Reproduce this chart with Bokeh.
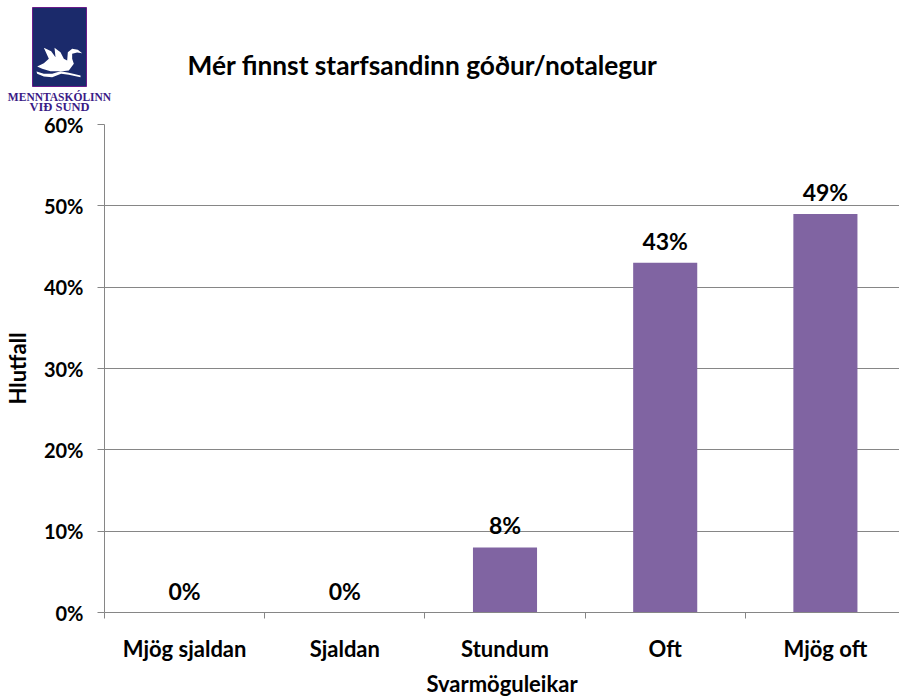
from bokeh.plotting import figure
from bokeh.models import ColumnDataSource, FixedTicker, PrintfTickFormatter, Range1d
from bokeh.core.properties import value
from bokeh.embed import file_html
from bokeh.resources import INLINE

categories = ["Mjög sjaldan", "Sjaldan", "Stundum", "Oft", "Mjög oft"]
percent = [0, 0, 8, 43, 49]
y_ticks = [0, 10, 20, 30, 40, 50, 60]
title_text = "Mér finnst starfsandinn góður/notalegur"
x_title = "Svarmöguleikar"
y_title = "Hlutfall"
logo_lines = ["MENNTASKÓLINN", "VIÐ SUND"]

FONT = "Lato"
GREY = "#868686"
BAR = "#8064A2"
NAVY = "#1B2A6B"

positions = list(range(len(categories)))
src = ColumnDataSource(dict(x=positions, top=percent, label=[f"{v}%" for v in percent]))

# header strip: the school's logo and the chart title, in page pixels
head = figure(width=899, height=114, output_backend="svg", toolbar_location=None,
              x_range=Range1d(0, 899), y_range=Range1d(114, 0), min_border=0,
              styles={"flex": "none"})
head.axis.visible = False
head.grid.visible = False
head.outline_line_color = None
head.quad(left=[32], right=[86], top=[7], bottom=[86], fill_color=NAVY, line_color="#6A1B8A", line_width=1)
swan = [(20,78),(40,68),(55,55),(40,22),(62,32),(75,50),(72,22),(90,35),(100,55),(110,60),(112,35),(125,25),(142,28),
        (155,38),(140,36),(125,40),(125,55),(130,70),(115,90),(95,92),(60,92),(35,85)]
wave = [(18,93),(40,100),(65,100),(90,92),(115,97),(150,105),(150,110),(115,103),(92,100),(65,110),(40,108),(20,100)]
for shape in (swan, wave):
    head.patch([30 + a / 3 for a, _ in shape], [40 + b / 3 for _, b in shape], color="white", line_color=None)
head.text(x=[59], y=[96], text=[logo_lines[0]], text_align="center", text_baseline="middle",
          text_font=value("Liberation Serif"), text_font_style="bold", text_font_size="11.5px", text_color="#3A1A86")
head.text(x=[59], y=[106.5], text=[logo_lines[1]], text_align="center", text_baseline="middle",
          text_font=value("Liberation Serif"), text_font_style="bold", text_font_size="12.5px", text_color="#3A1A86")
head.text(x=[187], y=[64], text=[title_text], text_align="left", text_baseline="middle",
          text_font=value(FONT), text_font_style="bold", text_font_size="26.3px", text_color="black")

# the chart overlaps the strip by a few pixels, so the 60% label can sit centred on its line
p = figure(width=899, height=591, output_backend="svg", toolbar_location=None,
           x_range=Range1d(-0.5, 4.4625), y_range=Range1d(0, 60),
           styles={"flex": "none", "margin-top": "-6px"})
p.min_border_left = 104
p.min_border_right = 0
p.min_border_top = 16
p.min_border_bottom = 87
p.outline_line_color = None
p.background_fill_color = "white"
p.border_fill_color = None

p.vbar(x="x", top="top", width=0.4, bottom=0, source=src, color=BAR, line_color=None)
p.text(x="x", y="top", text="label", source=src, text_align="center", text_baseline="bottom",
       y_offset=-8, text_font=value(FONT), text_font_style="bold", text_font_size="23px",
       text_color="black")

p.xgrid.visible = False
p.ygrid.grid_line_color = GREY
p.ygrid.grid_line_width = 1
p.ygrid.ticker = FixedTicker(ticks=y_ticks)

xa = p.xaxis[0]
xa.ticker = FixedTicker(ticks=positions, minor_ticks=[i - 0.5 for i in positions])
xa.major_label_overrides = dict(zip(positions, categories))
xa.major_tick_line_color = None
xa.major_tick_out = 0
xa.major_tick_in = 0
xa.minor_tick_line_color = GREY
xa.minor_tick_out = 6
xa.minor_tick_in = 0
xa.axis_line_color = GREY
xa.major_label_standoff = 16
xa.major_label_text_font = FONT
xa.major_label_text_font_style = "bold"
xa.major_label_text_font_size = "22px"
xa.major_label_text_color = "black"
xa.axis_label = x_title
xa.axis_label_text_font = FONT
xa.axis_label_text_font_style = "bold"
xa.axis_label_text_font_size = "22px"
xa.axis_label_text_color = "black"
xa.axis_label_text_line_height = 1.0
xa.axis_label_standoff = 5

ya = p.yaxis[0]
ya.ticker = FixedTicker(ticks=y_ticks)
ya.formatter = PrintfTickFormatter(format="%d%%")
ya.major_tick_line_color = GREY
ya.major_tick_out = 7
ya.major_tick_in = 0
ya.minor_tick_line_color = None
ya.axis_line_color = GREY
ya.major_label_standoff = 14
ya.major_label_text_font = FONT
ya.major_label_text_font_style = "bold"
ya.major_label_text_font_size = "20px"
ya.major_label_text_color = "black"
ya.axis_label = y_title
ya.axis_label_text_font = FONT
ya.axis_label_text_font_style = "bold"
ya.axis_label_text_font_size = "22px"
ya.axis_label_text_color = "black"
ya.axis_label_standoff = 10

open("out.html", "w").write(file_html([head, p], INLINE))
